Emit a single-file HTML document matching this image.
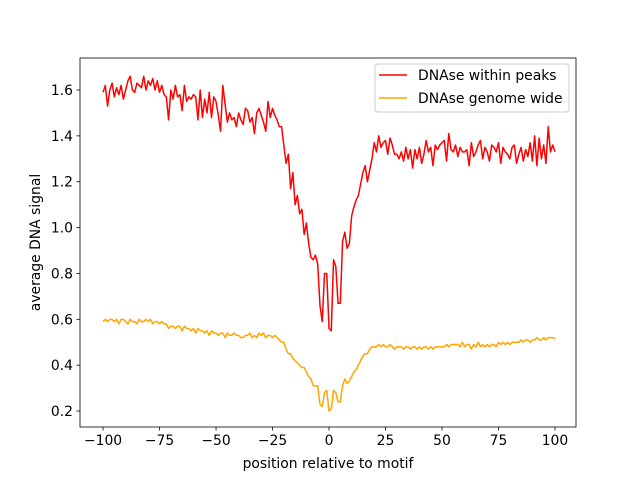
<!DOCTYPE html>
<html><head><meta charset="utf-8"><style>
body{margin:0;background:#fff}
svg text{font-family:"DejaVu Sans","Liberation Sans",sans-serif;font-size:13.9px;fill:#000}
</style></head><body>
<svg id="chart" width="640" height="480" xmlns="http://www.w3.org/2000/svg">
<rect width="640" height="480" fill="#fff"/>
<g id="plot"></g>
</svg>
<script>
const xTicks=[-100,-75,-50,-25,0,25,50,75,100];
const yTicks=[0.2,0.4,0.6,0.8,1.0,1.2,1.4,1.6];
const yTickLabels=["0.2","0.4","0.6","0.8","1.0","1.2","1.4","1.6"];
const seriesNames=["DNAse within peaks","DNAse genome wide"];
const xStart=-100;
const redValues=[1.59,1.62,1.53,1.60,1.63,1.57,1.61,1.58,1.62,1.56,1.60,1.64,1.66,1.60,1.59,1.63,1.62,1.61,1.66,1.60,1.64,1.62,1.65,1.60,1.64,
1.59,1.62,1.58,1.57,1.47,1.60,1.56,1.62,1.57,1.58,1.51,1.62,1.55,1.57,1.56,1.58,1.57,1.47,1.60,1.48,1.56,1.50,1.59,1.48,1.57,
1.55,1.49,1.42,1.62,1.54,1.46,1.50,1.47,1.48,1.44,1.50,1.47,1.45,1.52,1.51,1.46,1.48,1.41,1.50,1.52,1.49,1.46,1.42,1.55,1.48,
1.52,1.49,1.47,1.44,1.44,1.36,1.28,1.32,1.17,1.24,1.10,1.14,1.06,1.08,0.97,1.02,0.93,0.87,0.86,0.88,0.84,0.66,0.59,0.80,0.80,
0.56,0.55,0.86,0.83,0.67,0.67,0.94,0.98,0.91,0.93,1.05,1.09,1.12,1.14,1.19,1.24,1.27,1.20,1.25,1.30,1.37,1.33,1.40,1.35,1.37,
1.38,1.32,1.39,1.36,1.32,1.32,1.30,1.33,1.29,1.35,1.30,1.34,1.26,1.34,1.30,1.35,1.28,1.32,1.38,1.33,1.35,1.27,1.36,1.34,1.36,
1.37,1.38,1.29,1.41,1.34,1.33,1.36,1.31,1.35,1.33,1.33,1.34,1.27,1.37,1.31,1.33,1.36,1.38,1.30,1.35,1.33,1.29,1.36,1.35,1.33,
1.37,1.28,1.35,1.33,1.32,1.30,1.35,1.36,1.28,1.32,1.35,1.29,1.34,1.31,1.37,1.29,1.40,1.27,1.39,1.30,1.36,1.28,1.44,1.33,1.36,1.33];
const orangeValues=[0.59,0.60,0.59,0.60,0.60,0.59,0.60,0.58,0.60,0.60,0.59,0.58,0.60,0.59,0.59,0.58,0.60,0.59,0.59,0.60,0.59,0.60,0.58,0.59,0.59,
0.58,0.59,0.58,0.58,0.56,0.57,0.57,0.56,0.57,0.57,0.55,0.57,0.56,0.56,0.55,0.56,0.54,0.56,0.55,0.55,0.54,0.55,0.53,0.55,0.54,
0.54,0.53,0.54,0.54,0.52,0.54,0.53,0.53,0.54,0.53,0.53,0.52,0.52,0.53,0.53,0.54,0.52,0.53,0.52,0.54,0.53,0.54,0.52,0.53,0.53,
0.52,0.53,0.52,0.51,0.50,0.50,0.47,0.45,0.45,0.43,0.42,0.41,0.40,0.39,0.39,0.37,0.35,0.34,0.31,0.31,0.31,0.23,0.22,0.28,0.29,
0.20,0.21,0.29,0.28,0.24,0.24,0.31,0.34,0.32,0.33,0.35,0.37,0.38,0.40,0.42,0.44,0.45,0.45,0.47,0.48,0.48,0.48,0.49,0.48,0.49,
0.48,0.48,0.49,0.48,0.47,0.48,0.48,0.48,0.47,0.48,0.48,0.47,0.48,0.48,0.47,0.48,0.47,0.48,0.48,0.47,0.48,0.47,0.48,0.48,0.48,
0.48,0.48,0.49,0.48,0.49,0.49,0.49,0.49,0.48,0.50,0.48,0.49,0.49,0.47,0.49,0.48,0.50,0.48,0.49,0.48,0.49,0.48,0.49,0.49,0.48,
0.50,0.49,0.50,0.49,0.50,0.49,0.50,0.50,0.50,0.50,0.51,0.50,0.51,0.51,0.50,0.51,0.51,0.52,0.51,0.51,0.52,0.51,0.52,0.52,0.52,0.515];

const NS="http://www.w3.org/2000/svg";
const L=80,R=576,T=58,B=427;
const xMin=-110.2,xMax=109.3,yMin=0.1304,yMax=1.7396;
const xs=v=>L+(v-xMin)/(xMax-xMin)*(R-L);
const ys=v=>B-(v-yMin)/(yMax-yMin)*(B-T);
const g=document.getElementById('plot');
function mk(tag,attrs,parent){const e=document.createElementNS(NS,tag);for(const k in attrs)e.setAttribute(k,attrs[k]);(parent||g).appendChild(e);return e;}

function line(vals,color,name){
  const d=vals.map((v,i)=>(i?'L':'M')+xs(xStart+i).toFixed(2)+','+ys(v).toFixed(2)).join('');
  const p=mk('path',{d:d,fill:'none',stroke:color,'stroke-width':1.5,'stroke-linejoin':'round'});
  
  
}
line(redValues,'#ff0000','series-dnase-within-peaks');
line(orangeValues,'#ffa500','series-dnase-genome-wide');

const frame=mk('rect',{x:L,y:T,width:R-L,height:B-T,fill:'none',stroke:'#000','stroke-width':0.8});



xTicks.forEach(t=>{
  const x=xs(t);
  mk('line',{x1:x,x2:x,y1:B,y2:B+3.5,stroke:'#000','stroke-width':0.8});
  const tx=mk('text',{x:x,y:B+18,'text-anchor':'middle'});tx.textContent=String(t).replace('-','\u2212');
  
  
});
yTicks.forEach((t,i)=>{
  const y=ys(t);
  mk('line',{x1:L-3.5,x2:L,y1:y,y2:y,stroke:'#000','stroke-width':0.8});
  const tx=mk('text',{x:L-7,y:y+5,'text-anchor':'end'});tx.textContent=yTickLabels[i];
  
  
});
const xl=mk('text',{x:(L+R)/2,y:468,'text-anchor':'middle'});xl.textContent='position relative to motif';


const yl=mk('text',{x:40,y:(T+B)/2,'text-anchor':'middle',transform:'rotate(-90 40 '+((T+B)/2)+')'});yl.textContent='average DNA signal';



const leg=mk('g',{});


mk('rect',{x:375,y:64,width:194,height:48,rx:3,fill:'#fff','fill-opacity':0.8,stroke:'#ccc','stroke-width':1},leg);
const colors=['#ff0000','#ffa500'];
seriesNames.forEach((n,i)=>{
  const y=75+i*23;
  const ent=mk('g',{},leg);
  
  
  mk('line',{x1:379,x2:407,y1:y,y2:y,stroke:colors[i],'stroke-width':1.5},ent);
  const t=mk('text',{x:418,y:y+5},ent);t.textContent=n;
});
</script>
</body></html>
